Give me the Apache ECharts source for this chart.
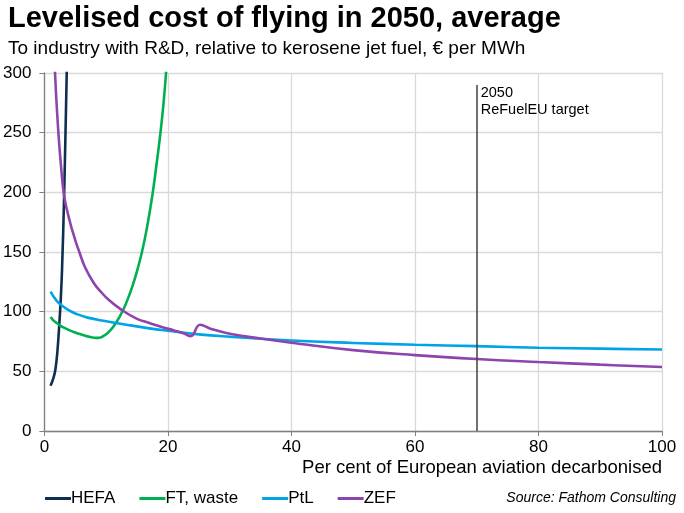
<!DOCTYPE html>
<html>
<head>
<meta charset="utf-8">
<script src="https://cdn.jsdelivr.net/npm/echarts@6/dist/echarts.min.js"></script>
<style>
html,body{margin:0;padding:0;background:#fff;}
#chart{width:684px;height:513px;}
</style>
</head>
<body>
<div id="chart"></div>
<script>
// values: [per cent decarbonised, € per MWh]
let hefaData=[[1,38],[1.5,45],[1.8,52],[2.1,66],[2.4,88],[2.65,110],[2.86,135],[3.2,197],[3.62,300],[3.9,365]];
let ftData=[[1,95.5],[1.5,92.5],[2,90.5],[2.5,88.6],[3,87],[4,84.5],[5,82.5],[6,80.8],[7,79.3],[8,78.2],[8.7,78],[9.3,78.8],[10,81],[10.7,84.5],[11.4,89],[12.1,95],[12.8,102],[13.5,110.5],[14.3,122],[15,134],[15.8,150],[16.6,170],[17.5,198],[18.2,225],[18.8,250],[19.3,275],[19.7,300],[20.1,330]];
let ptlData=[[1,116.7],[2,109],[3,104.5],[4,101],[5,98.5],[7,95],[10,92],[14,88.5],[17,86],[20,84],[25,81],[30,79],[40,75.8],[50,73.8],[60,72.3],[70,71.1],[80,69.8],[90,69],[100,68.3]];
let zefData=[[1.3,370],[1.73,300],[2.27,250],[2.7,222],[3.2,197],[4.1,176],[5,160],[5.66,150],[6.6,137],[8,124],[9,117.5],[10.5,109.5],[12.5,101.5],[15,94],[17,90.5],[19,87.2],[21,84.3],[22.5,82],[23.7,79.5],[25.2,89],[27,85.5],[30,81.5],[35,77.5],[40,74],[50,67.8],[60,63.6],[70,60.3],[80,57.8],[90,55.6],[100,53.6]];
let targetX=70;
let targetTop=290;
let xTicks=[0,20,40,60,80,100];
let yTicks=[0,50,100,150,200,250,300];

let colors=["#0e2f4f","#00b050","#00a3e6","#8e44ad"];
let names=["HEFA","FT, waste","PtL","ZEF"];
let datas=[hefaData,ftData,ptlData,zefData];

let chart=echarts.init(document.getElementById("chart"));
let font="Liberation Sans";

let series=datas.map(function(d,i){
	return {
		name:names[i],
		type:"line",
		data:d,
		showSymbol:false,
		smooth:0.45,
		lineStyle:{width:2.6,color:colors[i]},
		itemStyle:{color:colors[i]},
		clip:true
	};
});
//目标线
series[0].markLine={
	silent:true,
	symbol:"none",
	label:{show:false},
	lineStyle:{color:"#404040",width:1.5,type:"solid"},
	data:[[{coord:[targetX,0]},{coord:[targetX,targetTop]}]]
};
series[0].markPoint={
	silent:true,
	symbolSize:0,
	data:[{coord:[targetX,targetTop]}],
	label:{
		show:true,
		formatter:"2050\nReFuelEU target",
		position:[4,0],
		align:"left",
		verticalAlign:"top",
		fontFamily:font,
		fontSize:14.5,
		lineHeight:17,
		color:"#000"
	}
};

let option={
	animation:false,
	backgroundColor:"#fff",
	title:[{
		text:"Levelised cost of flying in 2050, average",
		left:8,top:4,padding:0,
		textStyle:{fontFamily:font,fontSize:29,fontWeight:"bold",color:"#000"}
	},{
		text:"To industry with R&D, relative to kerosene jet fuel, € per MWh",
		left:8,top:39,padding:0,
		textStyle:{fontFamily:font,fontSize:19,fontWeight:"normal",color:"#000"}
	},{
		text:"Source: Fathom Consulting",
		right:8,top:491,padding:0,
		textStyle:{fontFamily:font,fontSize:14,fontWeight:"normal",fontStyle:"italic",color:"#000"}
	}],
	legend:{
		data:names,
		left:40,top:485,
		itemWidth:26,itemHeight:16,itemGap:24,
		icon:"path://M0,7h26v3h-26z",
		textStyle:{fontFamily:font,fontSize:17,color:"#000",padding:[0,0,0,-5]}
	},
	grid:{left:44,right:22,top:73,bottom:82,containLabel:false},
	xAxis:{
		type:"value",
		min:xTicks[0],max:xTicks[xTicks.length-1],interval:20,
		name:"Per cent of European aviation decarbonised",
		nameLocation:"end",
		nameGap:0,
		nameTextStyle:{fontFamily:font,fontSize:18.5,color:"#000",align:"right",verticalAlign:"top",padding:[27,0,0,0]},
		axisLine:{show:true,lineStyle:{color:"#808080",width:1.3}},
		axisTick:{show:true,length:5,lineStyle:{color:"#808080"}},
		axisLabel:{fontFamily:font,fontSize:17,color:"#000",margin:8},
		splitLine:{show:true,lineStyle:{color:"#d9d9d9",width:1.3}}
	},
	yAxis:{
		type:"value",
		min:yTicks[0],max:yTicks[yTicks.length-1],interval:50,
		axisLine:{show:true,lineStyle:{color:"#808080",width:1.3}},
		axisTick:{show:true,length:5,lineStyle:{color:"#808080"}},
		axisLabel:{fontFamily:font,fontSize:17,color:"#000",margin:13},
		splitLine:{show:true,lineStyle:{color:"#d9d9d9",width:1.3}}
	},
	series:series
};
chart.setOption(option);
</script>
</body>
</html>
